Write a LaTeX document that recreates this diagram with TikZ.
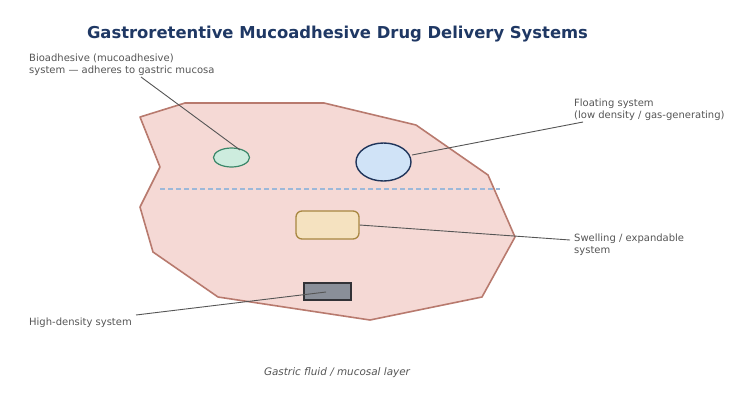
\documentclass[tikz,border=0pt]{standalone}
\usepackage{fontspec}
\setmainfont{DejaVu Sans}
\usetikzlibrary{shapes.geometric}
\begin{document}
\begin{tikzpicture}[x=1pt,y=-1pt,
  lbl/.style={font=\fontsize{10}{11.8}\selectfont, text=labelgray, align=left, inner sep=0pt},
  leader/.style={draw=leadgray, line width=0.9pt}]
\definecolor{labelgray}{HTML}{555555}
\definecolor{leadgray}{HTML}{555555}
\definecolor{navy}{HTML}{1F3864}
\definecolor{stfill}{HTML}{F5D9D5}
\definecolor{stline}{HTML}{B87A6E}
\definecolor{fluid}{HTML}{9DB8D9}
\useasboundingbox (0,0) rectangle (734,392);
\node[font=\fontsize{16.4}{19}\selectfont\bfseries, text=navy] (title) at (337.5,34) {Gastroretentive Mucoadhesive Drug Delivery Systems};
% stomach
\draw[fill=stfill, draw=stline, line width=1.6pt, line join=round]
 (140,117) -- (185,103) -- (324,103) -- (416,125) -- (488,175) -- (515,237) -- (482,297) -- (370,320) -- (218,297) -- (153,252) -- (140,207) -- (160,167) -- cycle;
% fluid line
\coordinate (dl) at (160,189); \coordinate (dr) at (500,189);
\draw[draw=fluid, line width=1.3pt, dash pattern=on 5pt off 3pt] (dl) -- (dr);
% systems
\node[ellipse, draw={rgb,255:red,58;green,135;blue,105}, fill={rgb,255:red,205;green,236;blue,222}, line width=1.2pt, minimum width=36pt, minimum height=19pt, inner sep=0pt] (bio) at (231.5,157.5) {};
\node[ellipse, draw={rgb,255:red,31;green,52;blue,90}, fill={rgb,255:red,208;green,227;blue,247}, line width=1.4pt, minimum width=55pt, minimum height=38pt, inner sep=0pt] (flo) at (383.5,162) {};
\node[rectangle, rounded corners=6pt, draw={rgb,255:red,168;green,135;blue,65}, fill={rgb,255:red,245;green,226;blue,192}, line width=1.3pt, minimum width=63pt, minimum height=28pt, inner sep=0pt] (swe) at (327.5,225) {};
\node[rectangle, draw={rgb,255:red,50;green,50;blue,55}, fill={rgb,255:red,138;green,143;blue,153}, line width=1.2pt, minimum width=47pt, minimum height=17pt, inner sep=0pt] (hd) at (327.5,291.5) {};
% labels
\node[lbl, anchor=base west] (biol) at (29,73) {Bioadhesive (mucoadhesive)\\system — adheres to gastric mucosa};
\node[lbl, anchor=base west] (flol) at (574,118) {Floating system\\(low density / gas-generating)};
\node[lbl, anchor=base west] (swel) at (574,253) {Swelling / expandable\\system};
\node[lbl, anchor=base west] (hdl) at (29,325) {High-density system};
\node[font=\fontsize{10.4}{12}\selectfont\itshape, text=labelgray] (gf) at (337,372.5) {Gastric fluid / mucosal layer};
% leaders
\coordinate (b1) at (141,77); \coordinate (b2) at (240,150);
\coordinate (f1) at (583,122); \coordinate (f2) at (412,155);
\coordinate (s1) at (570,240);
\coordinate (h1) at (136,315); \coordinate (h2) at (326,292);
\draw[leader] (b1) -- (b2);
\draw[leader] (f1) -- (f2);
\draw[leader] (s1) -- (swe.east);
\draw[leader] (h1) -- (h2);
\end{tikzpicture}
\end{document}
